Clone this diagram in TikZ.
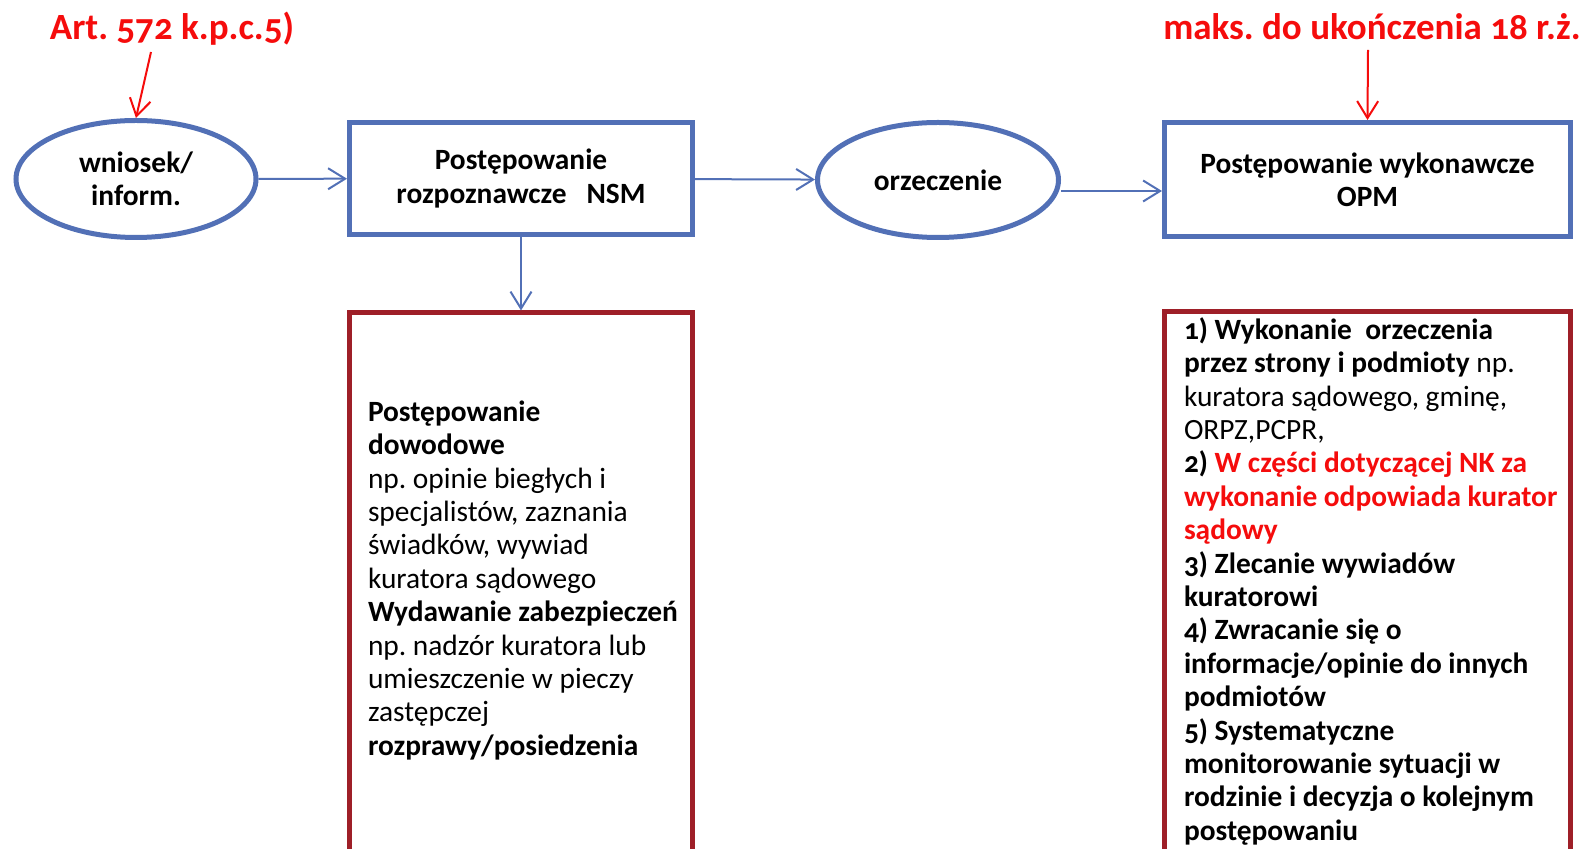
\documentclass[tikz,border=0pt]{standalone}
\usepackage{fontspec}
\setmainfont{Carlito}[Numbers=OldStyle]
\usetikzlibrary{shapes,arrows.meta}
\definecolor{ramka}{RGB}{82,112,182}
\definecolor{bordo}{RGB}{158,31,40}
\definecolor{czerw}{RGB}{245,12,12}
\frenchspacing
\newcommand{\tekst}{\fontsize{14.7}{16.7}\selectfont}
\newcommand{\naglowek}{\fontsize{18.5}{20}\selectfont\bfseries}
\tikzstyle{owal} = [draw=ramka, line width=2.5pt, ellipse, fill=white, inner sep=0pt, align=center, font=\tekst\bfseries]
\tikzstyle{blok} = [draw=ramka, line width=2.5pt, rectangle, fill=white, inner sep=0pt, align=center, font=\tekst\bfseries]
\tikzstyle{ramkadol} = [draw=bordo, line width=2.5pt, rectangle, fill=white, inner sep=0pt]
\tikzstyle{opis} = [inner sep=0pt, align=left, font=\tekst, anchor=north west]
\tikzstyle{uwaga} = [inner sep=0pt, text=czerw, font=\naglowek, anchor=base]
\tikzstyle{strz} = [draw=czerw, line width=1pt]

\begin{document}
\begin{tikzpicture}[x=0.5pt,y=-0.5pt,->,>={Straight Barb[length=8.5pt,width=10.5pt]},draw=ramka,line width=1pt]

\useasboundingbox (0,0) rectangle (1591,849);

\node[owal, minimum width=120pt, minimum height=58.5pt] (wniosek) at (136,179) {wniosek/\\inform.};
\node[blok, minimum width=171.5pt, minimum height=56pt] (rozp) at (521,178.5) {Postępowanie\\rozpoznawcze\ \ \ NSM};
\node[owal, minimum width=120.5pt, minimum height=57.5pt] (orzecz) at (938,180) {orzeczenie};
\node[blok, minimum width=203pt, minimum height=57pt] (opm) at (1367.5,179.5) {Postępowanie wykonawcze\\OPM};

\node[ramkadol, minimum width=171.5pt, minimum height=300pt, anchor=north] (dowod) at (521,310.5) {};
\node[ramkadol, minimum width=203pt, minimum height=300pt, anchor=north] (wyk) at (1367.5,309.5) {};

\node[opis] (dowodopis) at (367,397) {\strut\textbf{Postępowanie}\\
\textbf{dowodowe}\\
np. opinie biegłych i\\
specjalistów, zaznania\\
świadków, wywiad\\
kuratora sądowego\\
\textbf{Wydawanie zabezpieczeń}\\
np. nadzór kuratora lub\\
umieszczenie w pieczy\\
zastępczej\\
\textbf{rozprawy/posiedzenia}};

\node[opis] (wykopis) at (1183,315) {\strut\textbf{1) Wykonanie\ \ orzeczenia}\\
\textbf{przez strony i podmioty} np.\\
kuratora sądowego, gminę,\\
ORPZ,PCPR,\\
\textbf{2) \textcolor{czerw}{W części dotyczącej NK za}}\\
\textbf{\textcolor{czerw}{wykonanie odpowiada kurator}}\\
\textbf{\textcolor{czerw}{sądowy}}\\
\textbf{3) Zlecanie wywiadów}\\
\textbf{kuratorowi}\\
\textbf{4) Zwracanie się o}\\
\textbf{informacje/opinie do innych}\\
\textbf{podmiotów}\\
\textbf{5) Systematyczne}\\
\textbf{monitorowanie sytuacji w}\\
\textbf{rodzinie i decyzja o kolejnym}\\
\textbf{postępowaniu}};

\node[uwaga] (art) at (172,40) {Art. 572 k.p.c.5)};
\node[uwaga] (maks) at (1372,40) {maks. do ukończenia 18 r.ż.};
\coordinate (artstop) at (151,52);
\coordinate (maksstop) at (1368,50);

  \path
    (wniosek) edge [] (rozp)
    (rozp) edge [] (orzecz)
    ([yshift=-5.5pt]orzecz.east) edge [] ([yshift=-5.5pt]orzecz.east -| opm.west)
    (rozp) edge [] (dowod)
    (artstop) edge [strz] (wniosek.north)
    (maksstop) edge [strz] (opm.north);

\end{tikzpicture}
\end{document}
